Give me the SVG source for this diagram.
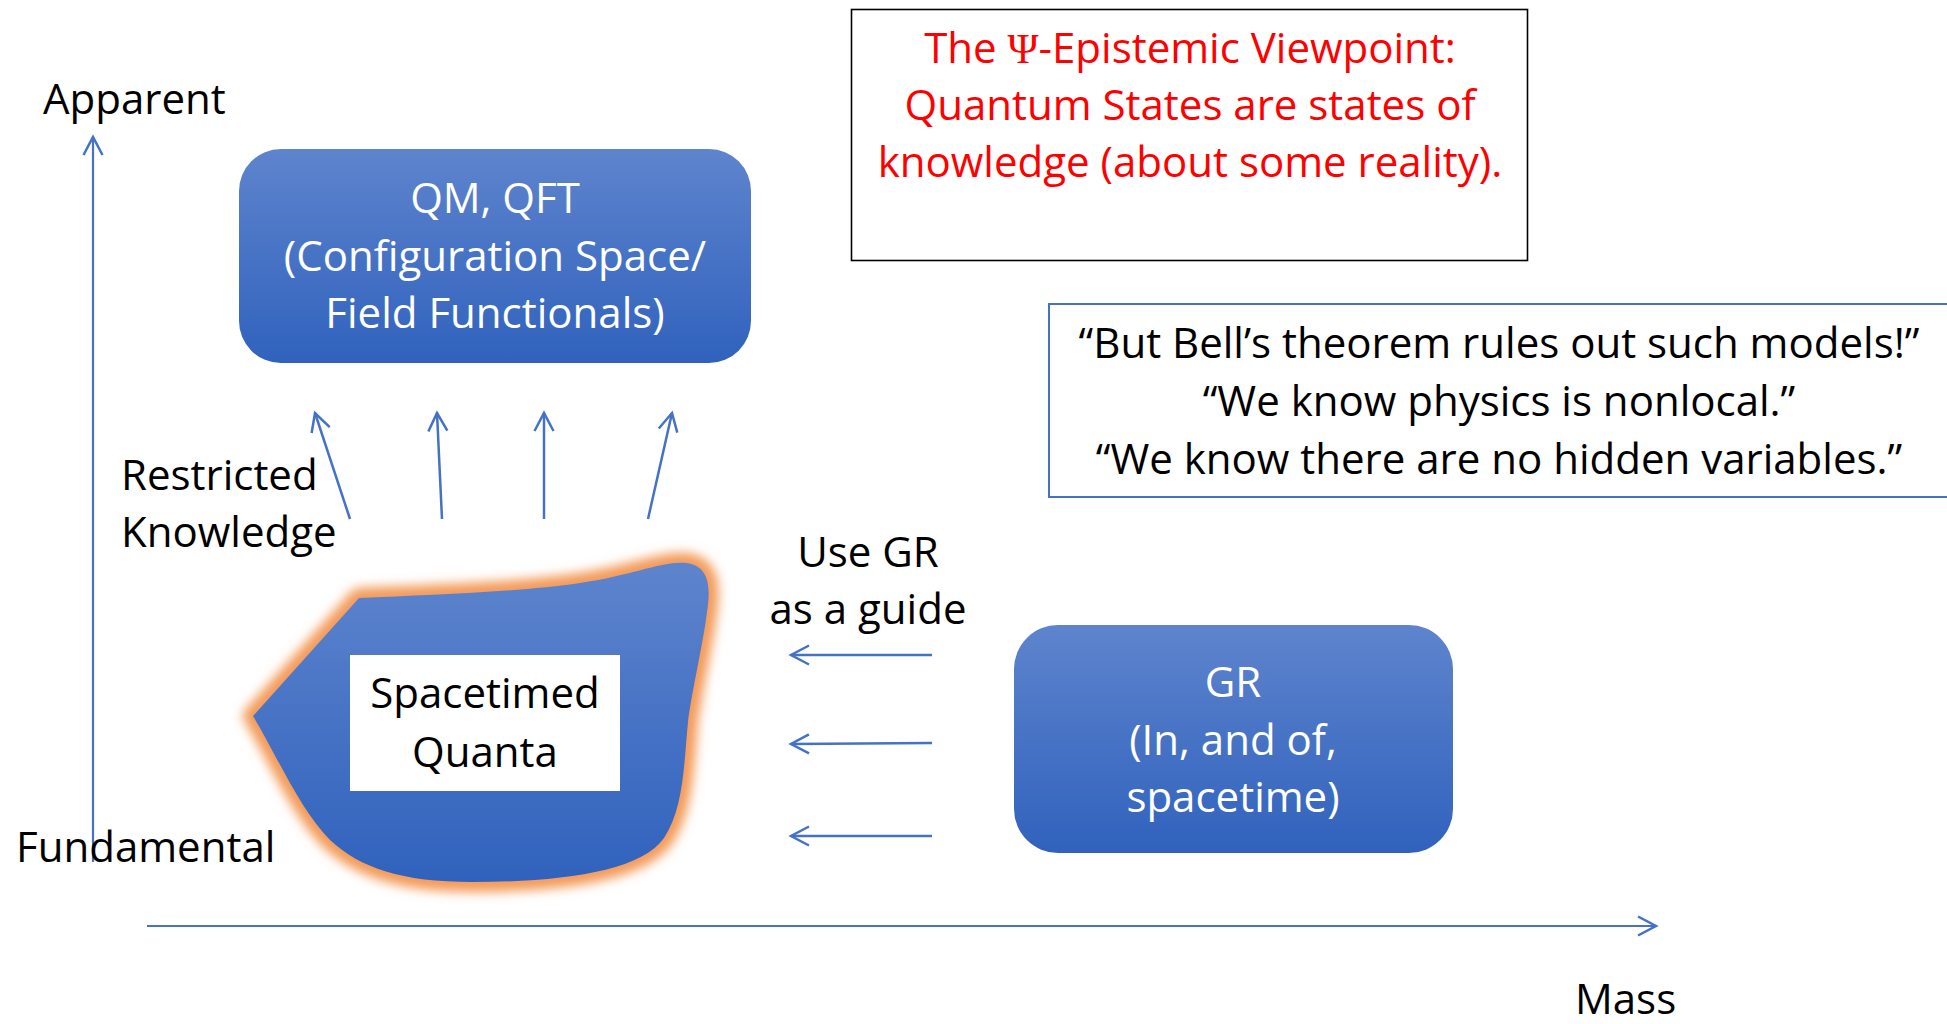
<svg xmlns="http://www.w3.org/2000/svg" width="1947" height="1024" viewBox="0 0 1947 1024">
  <style>
    text { font-family: "Open Sans", "Liberation Sans", sans-serif; font-size: 42px; }
    .dark { fill: #000000; }
    .light { fill: #FFFFFF; text-anchor: middle; }
    .mid { text-anchor: middle; }
    .red { fill: #FF0000; text-anchor: middle; }
    .conn { stroke: #4472C4; stroke-width: 2.5; fill: none; marker-end: url(#vhead); }
    .axis { stroke: #4472C4; stroke-width: 2.2; fill: none; marker-end: url(#vhead); }
    .panel { fill: url(#boxfill); }
  </style>
  <defs>
    <linearGradient id="boxfill" x1="0" y1="0" x2="0" y2="1">
      <stop offset="0" stop-color="#5E84CD"/>
      <stop offset="1" stop-color="#3062BD"/>
    </linearGradient>
    <marker id="vhead" markerUnits="userSpaceOnUse" markerWidth="30" markerHeight="30" viewBox="-22 -15 30 30" refX="0" refY="0" orient="auto">
      <path d="M-18,-9.5 L0,0 L-18,9.5" fill="none" stroke="#4472C4" stroke-width="2.5"/>
    </marker>
    <filter id="glow" x="-20%" y="-20%" width="140%" height="140%">
      <feGaussianBlur stdDeviation="5.5"/>
    </filter>
  </defs>

  <!-- axes and their labels -->
  <g id="axes">
    <line class="axis" x1="93" y1="862" x2="93" y2="137"/>
    <line class="axis" x1="147" y1="926" x2="1656" y2="926"/>
    <text class="dark" x="43" y="114">Apparent</text>
    <text class="dark" x="16" y="862">Fundamental</text>
    <text class="dark" x="1575" y="1014">Mass</text>
  </g>

  <!-- quantum theory box -->
  <g id="qm">
    <rect class="panel" x="239" y="149" width="512" height="214" rx="42"/>
    <text class="light" x="495" y="213">QM, QFT</text>
    <text class="light" x="495" y="271">(Configuration Space/</text>
    <text class="light" x="495" y="328">Field Functionals)</text>
  </g>

  <!-- epistemic viewpoint statement -->
  <g id="epistemic">
    <rect x="851.5" y="9.5" width="676" height="251" fill="#FFFFFF" stroke="#000000" stroke-width="1.6"/>
    <text class="red" x="1190" y="63">The <tspan font-family="'Liberation Serif', serif">Ψ</tspan>-Epistemic Viewpoint:</text>
    <text class="red" x="1190" y="120">Quantum States are states of</text>
    <text class="red" x="1190" y="177">knowledge (about some reality).</text>
  </g>

  <!-- objections box -->
  <g id="objections">
    <rect x="1049" y="304" width="920" height="193" fill="#FFFFFF" stroke="#4472C4" stroke-width="2"/>
    <text class="mid" x="1499" y="358">“But Bell’s theorem rules out such models!”</text>
    <text class="mid" x="1499" y="416">“We know physics is nonlocal.”</text>
    <text class="mid" x="1499" y="474">“We know there are no hidden variables.”</text>
  </g>

  <!-- restricted knowledge label -->
  <g id="restricted">
    <text class="dark" x="121" y="490">Restricted</text>
    <text class="dark" x="121" y="547">Knowledge</text>
  </g>

  <!-- GR guide label -->
  <g id="guide">
    <text class="mid" x="868" y="567">Use GR</text>
    <text class="mid" x="868" y="624">as a guide</text>
  </g>

  <!-- general relativity box -->
  <g id="gr">
    <rect class="panel" x="1014" y="625" width="439" height="228" rx="44"/>
    <text class="light" x="1233" y="697">GR</text>
    <text class="light" x="1233" y="755">(In, and of,</text>
    <text class="light" x="1233" y="812">spacetime)</text>
  </g>

  <!-- spacetimed quanta blob with orange glow -->
  <g id="quanta">
    <path d="M253,716 L359,598 C430,595 520,592 580,583 C630,576 662,561 686,563 C712,566 710,592 707,612 C703,645 692,690 688,722 C684,762 684,808 664,838 C640,872 560,882 472,882 C402,882 360,868 330,840 C300,810 275,752 253,716 Z" fill="none" stroke="#F39A58" stroke-width="20" stroke-linejoin="round" filter="url(#glow)"/>
    <path d="M253,716 L359,598 C430,595 520,592 580,583 C630,576 662,561 686,563 C712,566 710,592 707,612 C703,645 692,690 688,722 C684,762 684,808 664,838 C640,872 560,882 472,882 C402,882 360,868 330,840 C300,810 275,752 253,716 Z" fill="url(#boxfill)"/>
    <rect x="350" y="655" width="270" height="136" fill="#FFFFFF"/>
    <text class="mid" x="485" y="708">Spacetimed</text>
    <text class="mid" x="485" y="767">Quanta</text>
  </g>

  <!-- connectors -->
  <g id="connectors">
    <line class="conn" x1="350" y1="519" x2="315" y2="413"/>
    <line class="conn" x1="442" y1="519" x2="437" y2="413"/>
    <line class="conn" x1="544" y1="519" x2="544" y2="413"/>
    <line class="conn" x1="648" y1="519" x2="672" y2="413"/>
    <line class="conn" x1="932" y1="655" x2="791" y2="655"/>
    <line class="conn" x1="932" y1="743" x2="791" y2="744"/>
    <line class="conn" x1="932" y1="836" x2="791" y2="836"/>
  </g>
</svg>
